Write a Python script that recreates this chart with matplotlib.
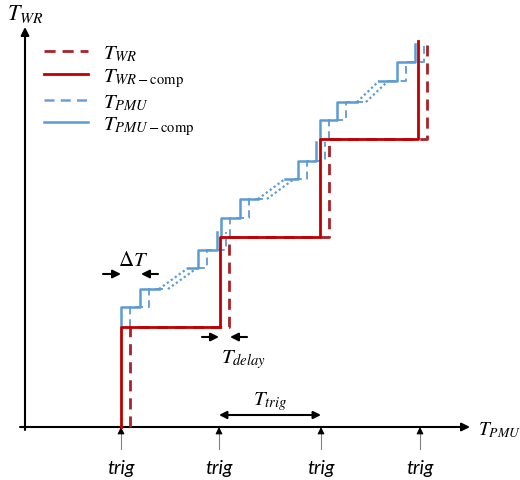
import matplotlib.pyplot as plt
import numpy as np

# schematic values, in drawing units (origin at the axes crossing)
trig_times = [96, 194, 296, 395]
trig_label = "trig"
wr_times = [96, 195, 295, 393]
wr_levels = [0, 100, 190, 288, 386]
delay = 9

# PMU compensated staircase, pieces joined by dotted "..." runs
pmu_x = [[96, 96, 115, 115, 134], [163, 173, 173, 192, 192],
         [196, 196, 215, 215, 233], [260, 273, 273, 291, 291],
         [295, 295, 312, 312, 332], [354, 372, 372, 390, 390]]
pmu_y = [[100, 120, 120, 138, 138], [159, 159, 177, 177, 195],
         [190, 209, 209, 228, 228], [248, 248, 266, 266, 285],
         [288, 307, 307, 325, 325], [346, 346, 365, 365, 383]]

legend_labels = [r"$T_{WR}$", r"$T_{WR-\mathrm{comp}}$", r"$T_{PMU}$", r"$T_{PMU-\mathrm{comp}}$"]

red = "#c00000"
red_d = "#a8232a"
blue = "#5b9bd5"
blue_d = "#6f9fd2"

plt.rcParams['mathtext.fontset'] = 'stix'

fig = plt.figure(figsize=(5.2, 4.81), dpi=100)
ax = fig.add_axes([0, 0, 1, 1])
ax.set_xlim(-25, 495)
ax.set_ylim(-53, 428)
ax.axis('off')


def wr_line(times, levels, shift=0):
    xs = [times[0] + shift]
    ys = [levels[0]]
    for i, t in enumerate(times):
        xs += [t + shift]
        ys += [levels[i + 1]]
        if i + 1 < len(times):
            xs += [times[i + 1] + shift]
            ys += [levels[i + 1]]
    return np.array(xs), np.array(ys)


# PMU lines
for k in range(len(pmu_x)):
    x = np.array(pmu_x[k])
    y = np.array(pmu_y[k])
    ax.plot(x + delay, y, color=blue_d, lw=1.4, ls=(0, (4, 2.5)), zorder=2)
    ax.plot(x, y, color=blue, lw=1.8, zorder=3)
    if k % 2 == 0:
        xd = [pmu_x[k][-1], pmu_x[k + 1][0]]
        yd = [pmu_y[k][-1], pmu_y[k + 1][0]]
        ax.plot(xd, yd, color=blue, lw=1.6, ls=(0, (1, 1.2)), zorder=2)
        ax.plot(np.array(xd) + delay, yd, color=blue, lw=1.6, ls=(0, (1, 1.2)), zorder=2)

# WR lines
xw, yw = wr_line(wr_times, wr_levels, delay)
yw[-1] = yw[-1] - 4
ax.plot(xw, yw, color=red_d, lw=2.0, ls=(0, (4, 2.5)), zorder=4)
xw, yw = wr_line(wr_times, wr_levels)
ax.plot(xw, yw, color=red, lw=2.0, zorder=5)

# axes with arrows
arr = dict(arrowstyle='-|>', color='black', lw=1.5, mutation_scale=12, shrinkA=0, shrinkB=0)
ax.annotate("", xy=(445, 0), xytext=(-5, 0), arrowprops=arr)
ax.annotate("", xy=(0, 400), xytext=(0, -3), arrowprops=arr)
ax.text(0, 414, r"$T_{WR}$", fontsize=16, ha='center', va='center')
ax.text(453, -2, r"$T_{PMU}$", fontsize=14, ha='left', va='center')

# trigger marks
for t in trig_times:
    ax.plot([t, t], [-22, -4], color='#808080', lw=0.8)
    ax.annotate("", xy=(t, 0), xytext=(t, -5),
                arrowprops=dict(arrowstyle='-|>', color='black', lw=0.8, mutation_scale=10,
                                shrinkA=0, shrinkB=0))
    ax.text(t, -41, trig_label, fontsize=14, family='Lato', style='italic',
            ha='center', va='center')

# T_trig
ax.annotate("", xy=(trig_times[1], 12), xytext=(trig_times[2], 12),
            arrowprops=dict(arrowstyle='<|-|>', color='black', lw=1.5, mutation_scale=11,
                            shrinkA=0, shrinkB=0))
ax.text((trig_times[1] + trig_times[2]) / 2, 26, r"$T_{trig}$", fontsize=15, ha='center', va='center')

# delta T
ax.annotate("", xy=(96, 153), xytext=(78, 153), arrowprops=dict(arr, lw=1.5))
ax.annotate("", xy=(116, 153), xytext=(133, 153), arrowprops=dict(arr, lw=1.5))
ax.text(108, 168, r"$\Delta T$", fontsize=15, ha='center', va='center')

# T_delay
ax.annotate("", xy=(194, 90), xytext=(177, 90), arrowprops=dict(arr, lw=1.5))
ax.annotate("", xy=(205, 90), xytext=(222, 90), arrowprops=dict(arr, lw=1.5))
ax.text(219, 68, r"$T_{delay}$", fontsize=15, ha='center', va='center')

# legend
handles = [
    plt.Line2D([], [], color=red_d, lw=2.0, ls=(0, (4, 2.5))),
    plt.Line2D([], [], color=red, lw=2.0),
    plt.Line2D([], [], color=blue_d, lw=1.8, ls=(0, (4, 2.5))),
    plt.Line2D([], [], color=blue, lw=1.8),
]
ax.legend(handles, legend_labels, loc='upper left', bbox_to_anchor=(0.085, 0.91),
          frameon=False, fontsize=15, handlelength=2.1, handletextpad=0.7,
          labelspacing=0.1, borderpad=0, borderaxespad=0)

fig.savefig("out.png", dpi=100)
